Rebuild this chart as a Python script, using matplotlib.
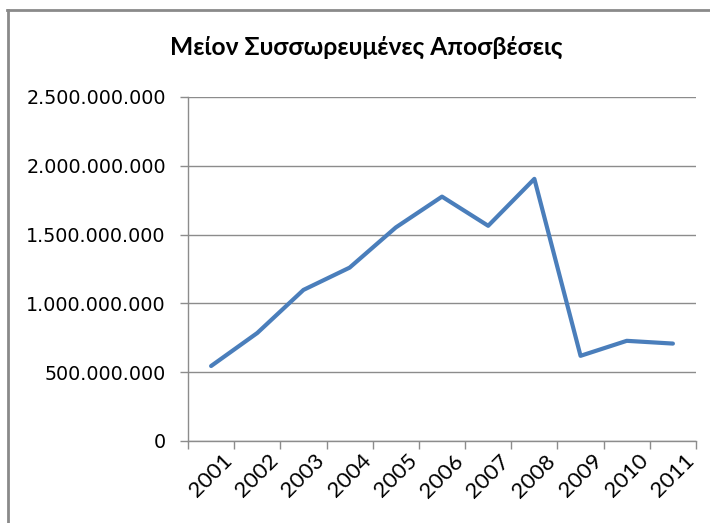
import matplotlib
matplotlib.use("Agg")
import matplotlib.pyplot as plt
from matplotlib.lines import Line2D
from matplotlib.ticker import FuncFormatter, FixedLocator

# Accumulated depreciation by year
years = ["2001", "2002", "2003", "2004", "2005", "2006",
         "2007", "2008", "2009", "2010", "2011"]
values = [545e6, 785e6, 1098e6, 1260e6, 1552e6, 1776e6,
          1564e6, 1905e6, 619e6, 728e6, 708e6]
title = "Μείον Συσσωρευμένες Αποσβέσεις"
y_ticks = [0, 500e6, 1000e6, 1500e6, 2000e6, 2500e6]

W, H = 710, 523
fig = plt.figure(figsize=(W / 100, H / 100), dpi=100)
fig.patch.set_facecolor("white")

ax = fig.add_axes([188 / W, (H - 441) / H, 508 / W, 344 / H])

x = list(range(len(years)))
ax.plot(x, values, color="#4A7EBB", lw=3.0, solid_joinstyle="round",
        solid_capstyle="round", zorder=3)

ax.set_xlim(-0.5, len(years) - 0.5)
ax.set_ylim(0, 2500e6)

grid_c = "#8C8C8C"
ax.yaxis.set_major_locator(FixedLocator(y_ticks))
ax.yaxis.set_major_formatter(
    FuncFormatter(lambda v, p: f"{int(v):,}".replace(",", ".")))
ax.grid(axis="y", color=grid_c, lw=1.0, zorder=0)
ax.set_axisbelow(True)

ax.set_xticks(x)
ax.set_xticklabels(years, rotation=45, ha="center", va="top")
ax.set_xticks([i - 0.5 for i in range(len(years) + 1)], minor=True)
ax.tick_params(axis="x", which="major", length=0, pad=7,
               labelsize=16, labelfontfamily="Lato")
ax.tick_params(axis="x", which="minor", length=6, color=grid_c, width=1)
ax.tick_params(axis="y", length=6, color=grid_c, width=1, pad=10,
               labelsize=13.8, labelfontfamily="DejaVu Sans")

for s in ("top", "right"):
    ax.spines[s].set_visible(False)
for s in ("left", "bottom"):
    ax.spines[s].set_color(grid_c)
    ax.spines[s].set_linewidth(1.0)

fig.text(366 / W, 1 - 47 / H, title, ha="center", va="center",
         fontsize=17.7, family="Lato", fontweight="bold")

# Chart frame
frame_c = "#8A8A8A"
fig.add_artist(Line2D([8 / W, 8 / W], [0, 1 - 10 / H], color=frame_c,
                      lw=2, transform=fig.transFigure))
fig.add_artist(Line2D([7 / W, 1], [1 - 10 / H, 1 - 10 / H], color=frame_c,
                      lw=2, transform=fig.transFigure))

fig.savefig("out.png", dpi=100)
